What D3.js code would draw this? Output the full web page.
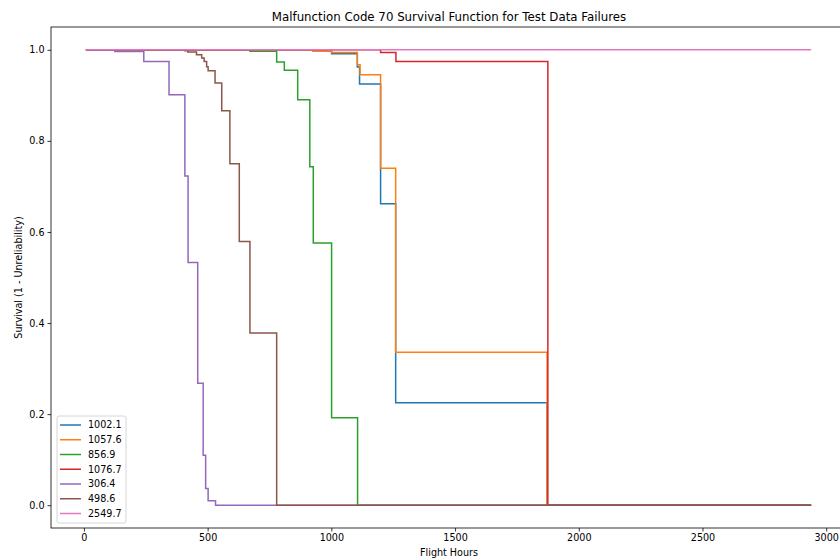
<!DOCTYPE html>
<html>
<head>
<meta charset="utf-8">
<script src="https://cdn.jsdelivr.net/npm/d3@7"></script>
<style>
  body { margin: 0; background: #fff; }
  text { font-family: "DejaVu Sans", sans-serif; fill: #000; }
</style>
</head>
<body>
<div id="app"></div>
<script>
// series labels, in legend order
const labels = ["1002.1", "1057.6", "856.9", "1076.7", "306.4", "498.6", "2549.7"];
const colors = ["#1f77b4", "#ff7f0e", "#2ca02c", "#d62728", "#9467bd", "#8c564b", "#e377c2"];

// step times (flight hours) and survival after each step
const t1002 = [8, 927, 1001, 1105, 1114, 1199, 1260, 1872, 2939];
const s1002 = [1.0, 0.997, 0.991, 0.962, 0.925, 0.662, 0.225, 0.0, 0.0];

const t1057 = [8, 927, 1001, 1105, 1116, 1199, 1260, 1872, 2939];
const s1057 = [1.0, 0.997, 0.994, 0.967, 0.945, 0.740, 0.336, 0.0, 0.0];

const t856 = [8, 671, 779, 810, 864, 913, 927, 1001, 1106, 2939];
const s856 = [1.0, 0.997, 0.973, 0.955, 0.890, 0.743, 0.576, 0.192, 0.0, 0.0];

const t1076 = [8, 1199, 1261, 1875, 2939];
const s1076 = [1.0, 0.994, 0.974, 0.0, 0.0];

const t306 = [8, 125, 242, 344, 408, 421, 460, 482, 492, 502, 532, 2939];
const s306 = [1.0, 0.996, 0.974, 0.901, 0.723, 0.533, 0.268, 0.110, 0.037, 0.010, 0.0, 0.0];

const t498 = [8, 408, 420, 455, 476, 486, 496, 502, 530, 557, 590, 628, 671, 779, 2939];
const s498 = [1.0, 0.998, 0.995, 0.989, 0.982, 0.974, 0.963, 0.954, 0.927, 0.866, 0.750, 0.579, 0.378, 0.0, 0.0];

const t2549 = [8, 2939];
const s2549 = [1.0, 1.0];

const xTicks = [0, 500, 1000, 1500, 2000, 2500, 3000];
const yTicks = [0.0, 0.2, 0.4, 0.6, 0.8, 1.0];

const width = 840
    , height = 560
    , plotLeft = 51
    , plotRight = 847
    , plotTop = 27
    , plotBottom = 528
    , fontSize = "9.6px";

const series = [
  [t1002, s1002], [t1057, s1057], [t856, s856], [t1076, s1076],
  [t306, s306], [t498, s498], [t2549, s2549]
].map(([t, s], i) => ({
  name: labels[i],
  color: colors[i],
  points: t.map((v, j) => [v, s[j]])
}));

const x = d3.scaleLinear().domain([-133, 3084]).range([plotLeft, plotRight]);
const y = d3.scaleLinear().domain([-0.05, 1.05]).range([plotBottom, plotTop]);

const svg = d3.select("#app").append("svg")
    .attr("width", width)
    .attr("height", height)
    .style("display", "block");

svg.append("rect")
    .attr("width", width)
    .attr("height", height)
    .attr("fill", "#fff");

svg.append("defs").append("clipPath")
    .attr("id", "plot")
  .append("rect")
    .attr("x", plotLeft)
    .attr("y", plotTop)
    .attr("width", plotRight - plotLeft)
    .attr("height", plotBottom - plotTop);

const line = d3.line()
    .x(d => x(d[0]))
    .y(d => y(d[1]))
    .curve(d3.curveStepAfter);

svg.append("g")
    .attr("clip-path", "url(#plot)")
  .selectAll("path")
    .data(series)
  .enter().append("path")
    .attr("d", d => line(d.points))
    .attr("fill", "none")
    .attr("stroke", d => d.color)
    .attr("stroke-width", 1.5)
    .attr("stroke-linejoin", "miter");

// axes
const xAxis = svg.append("g")
    .attr("transform", `translate(0,${plotBottom})`)
    .call(d3.axisBottom(x).tickValues(xTicks).tickFormat(d3.format("d")).tickSize(3.5).tickPadding(3));

const yAxis = svg.append("g")
    .attr("transform", `translate(${plotLeft},0)`)
    .call(d3.axisLeft(y).tickValues(yTicks).tickFormat(d3.format(".1f")).tickSize(3.5).tickPadding(3));

[xAxis, yAxis].forEach(g => {
  g.select(".domain").remove();
  g.selectAll("line").attr("stroke", "#000").attr("stroke-width", 0.8);
  g.selectAll("text").style("font-size", fontSize).style("font-family", "DejaVu Sans, sans-serif");
});

// frame
svg.append("rect")
    .attr("x", plotLeft)
    .attr("y", plotTop)
    .attr("width", plotRight - plotLeft)
    .attr("height", plotBottom - plotTop)
    .attr("fill", "none")
    .attr("stroke", "#000")
    .attr("stroke-width", 0.8);

svg.append("text")
    .attr("x", (plotLeft + plotRight) / 2)
    .attr("y", 21)
    .attr("text-anchor", "middle")
    .style("font-size", "11.8px")
    .text("Malfunction Code 70 Survival Function for Test Data Failures");

svg.append("text")
    .attr("x", (plotLeft + plotRight) / 2)
    .attr("y", 556)
    .attr("text-anchor", "middle")
    .style("font-size", fontSize)
    .text("Flight Hours");

svg.append("text")
    .attr("transform", `translate(22,${(plotTop + plotBottom) / 2}) rotate(-90)`)
    .attr("text-anchor", "middle")
    .style("font-size", fontSize)
    .text("Survival (1 - Unreliability)");

// legend
const legend = svg.append("g")
    .attr("transform", "translate(57,416)");

legend.append("rect")
    .attr("width", 69)
    .attr("height", 107)
    .attr("rx", 2)
    .attr("fill", "#fff")
    .attr("fill-opacity", 0.8)
    .attr("stroke", "#ccc")
    .attr("stroke-width", 0.8);

const item = legend.selectAll(".item")
    .data(series)
  .enter().append("g")
    .attr("class", "item")
    .attr("transform", (d, i) => `translate(0,${9 + i * 14.75})`);

item.append("line")
    .attr("x1", 3)
    .attr("x2", 24)
    .attr("stroke", d => d.color)
    .attr("stroke-width", 1.5);

item.append("text")
    .attr("x", 31)
    .attr("dy", "0.35em")
    .style("font-size", fontSize)
    .text(d => d.name);
</script>
</body>
</html>
